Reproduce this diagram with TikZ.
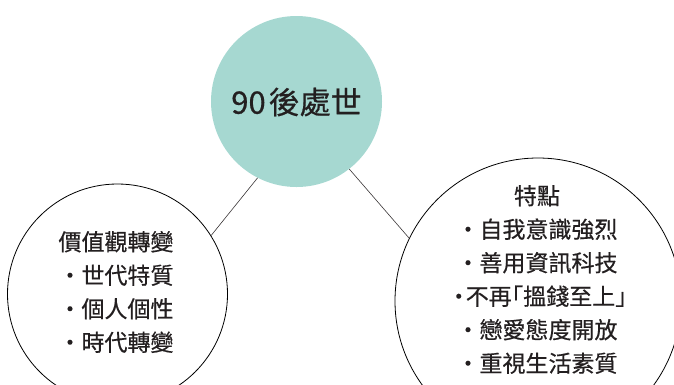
\documentclass[tikz,border=0pt]{standalone}
\usepackage{fontspec}
\newfontfamily\cjk[FakeBold=0.5]{Noto Sans CJK TC}
\newcommand{\halfw}[1]{{\addfontfeature{RawFeature=+halt}#1}}
\definecolor{topfill}{RGB}{166,216,209}
\definecolor{ink}{RGB}{35,31,32}
\tikzset{
  ring/.style={circle, draw=black, line width=0.8pt, inner sep=0pt},
  conn/.style={draw=ink!90, line width=0.6pt},
  bodytext/.style={font=\cjk\fontsize{23}{33.5}\selectfont, text=ink, align=center, inner sep=0pt},
}
\begin{document}
\begin{tikzpicture}[x=1pt,y=-1pt]
\useasboundingbox (0,0) rectangle (674,384);
\clip (0,0) rectangle (674,384);
\node[circle, fill=topfill, minimum size=171pt, inner sep=0pt] (top) at (296.5,101.5) {};
\node[font=\cjk\fontsize{31}{36}\selectfont, text=ink, inner sep=0pt] (toptext) at (296.5,102) {90\kern3pt後處世};
\node[ring, minimum size=220pt] (left) at (117.5,294) {};
\node[ring, minimum size=286pt] (right) at (538,301) {};
\draw[conn] (top.243.3) -- (left.32);
\draw[conn] (top.308.8) -- (right.154.7);
\node[bodytext] (lefttext) at (116,292) {價值觀轉變\\・世代特質\\・個人個性\\・時代轉變};
\node[bodytext] (righttext) at (537,279.5) {特點\\・自我意識強烈\\・善用資訊科技\\・\kern-4.5pt不再\halfw{「}搵錢至上\halfw{」}\\・戀愛態度開放\\・重視生活素質};
\end{tikzpicture}
\end{document}
